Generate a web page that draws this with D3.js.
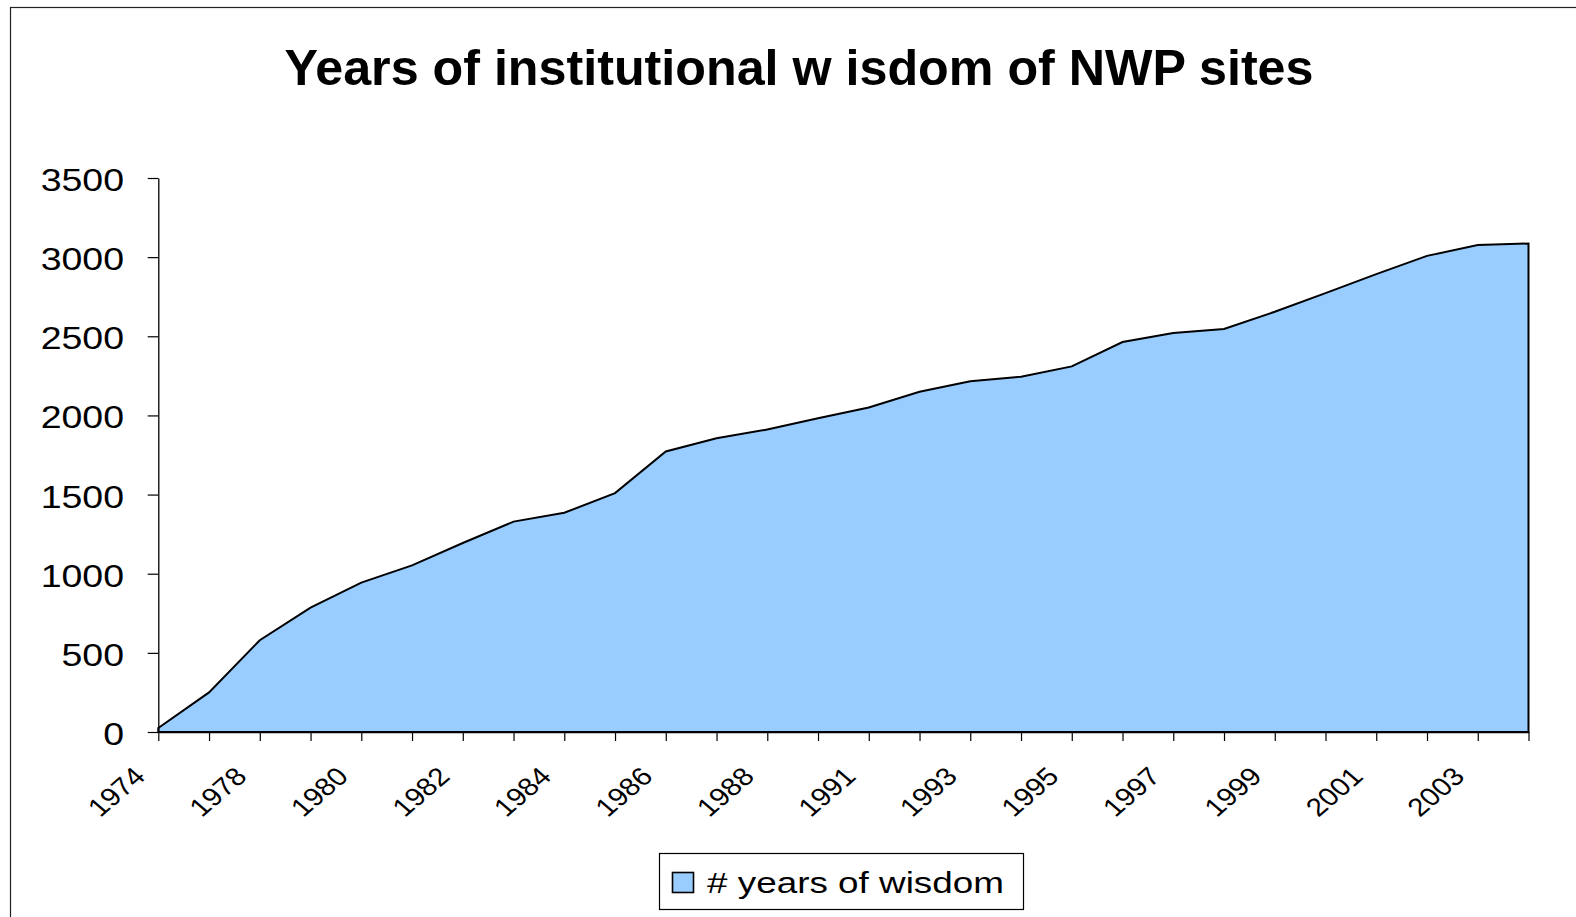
<!DOCTYPE html>
<html>
<head>
<meta charset="utf-8">
<script src="https://cdn.jsdelivr.net/npm/d3@7"></script>
<style>
  html, body { margin: 0; padding: 0; background: #fff; }
  svg { display: block; }
  text { font-family: "Liberation Sans", Arial, sans-serif; fill: #000; }
</style>
</head>
<body>
<svg id="chart" width="1576" height="917"></svg>
<script>
// ---- data ----
const title = "Years of institutional w isdom of NWP sites";
const seriesName = "# years of wisdom";
const years = ["1974","1977","1978","1979","1980","1981","1982","1983","1984","1985",
               "1986","1987","1988","1990","1991","1992","1993","1994","1995","1996",
               "1997","1998","1999","2000","2001","2002","2003","2004"];
const wisdom = [25, 250, 580, 786, 944, 1053, 1194, 1329, 1385, 1509,
                1772, 1856, 1911, 1982, 2050, 2150, 2216, 2245, 2310, 2464,
                2521, 2546, 2655, 2773, 2893, 3008, 3076, 3086];
const yTicks = [0, 500, 1000, 1500, 2000, 2500, 3000, 3500];

// ---- layout ----
const svg = d3.select("#chart");
const plot = { left: 158.3, right: 1528.5, top: 178, bottom: 732 };

const x = d3.scalePoint().domain(years).range([plot.left, plot.right]);
const y = d3.scaleLinear().domain([0, 3500]).range([plot.bottom, plot.top]);

// outer frame
svg.append("rect")
  .attr("x", 10.5).attr("y", 7.5).attr("width", 1700).attr("height", 1000)
  .attr("fill", "none").attr("stroke", "#222").attr("stroke-width", 1.2);

// title
svg.append("text")
  .attr("x", 799).attr("y", 85)
  .attr("text-anchor", "middle")
  .attr("font-size", 50).attr("font-weight", "bold")
  .attr("textLength", 1029).attr("lengthAdjust", "spacingAndGlyphs")
  .text(title);

// area
const data = years.map((yr, i) => ({ yr, v: wisdom[i] }));
const area = d3.area()
  .x(d => x(d.yr))
  .y0(y(0))
  .y1(d => y(d.v));
svg.append("path")
  .datum(data)
  .attr("d", area)
  .attr("fill", "#99CCFF")
  .attr("stroke", "#000")
  .attr("stroke-width", 2)
  .attr("stroke-linejoin", "miter");

// y axis
const yAxis = svg.append("g")
  .attr("transform", `translate(${plot.left},0)`)
  .call(d3.axisLeft(y).tickValues(yTicks).tickSize(10.6).tickSizeOuter(0).tickFormat(d3.format("d")));
yAxis.select(".domain").attr("stroke", "#000").attr("stroke-width", 1.3);
yAxis.selectAll(".tick line").attr("stroke", "#000").attr("stroke-width", 1.2);
yAxis.selectAll(".tick text")
  .attr("x", 0).attr("dy", null)
  .attr("font-size", 31.5).attr("font-family", "Liberation Sans, Arial, sans-serif")
  .attr("text-anchor", "end")
  .attr("transform", `translate(${124 - plot.left},12.5) scale(1.19,1)`);

// x axis
const xAxis = svg.append("g")
  .attr("transform", `translate(0,${plot.bottom})`)
  .call(d3.axisBottom(x).tickSize(9).tickSizeOuter(0)
    .tickFormat((d, i) => (i % 2 === 0 ? d : "")));
xAxis.select(".domain").attr("stroke", "#000").attr("stroke-width", 1.5);
xAxis.selectAll(".tick line").attr("stroke", "#000").attr("stroke-width", 1.2);
xAxis.selectAll(".tick text")
  .attr("x", 0).attr("y", 0).attr("dy", null)
  .attr("font-size", 25.5).attr("font-family", "Liberation Sans, Arial, sans-serif")
  .attr("text-anchor", "end")
  .attr("transform", "translate(-12,46) scale(1.16,1) rotate(-45)");

// legend
const lg = svg.append("g");
lg.append("rect")
  .attr("x", 659.5).attr("y", 853.5).attr("width", 364).attr("height", 56)
  .attr("fill", "#fff").attr("stroke", "#000").attr("stroke-width", 1.2);
lg.append("rect")
  .attr("x", 672.5).attr("y", 872.5).attr("width", 21).attr("height", 20)
  .attr("fill", "#99CCFF").attr("stroke", "#000").attr("stroke-width", 1.6);
lg.append("text")
  .attr("x", 707).attr("y", 893)
  .attr("font-size", 29)
  .attr("textLength", 297).attr("lengthAdjust", "spacingAndGlyphs")
  .text(seriesName);
</script>
</body>
</html>
